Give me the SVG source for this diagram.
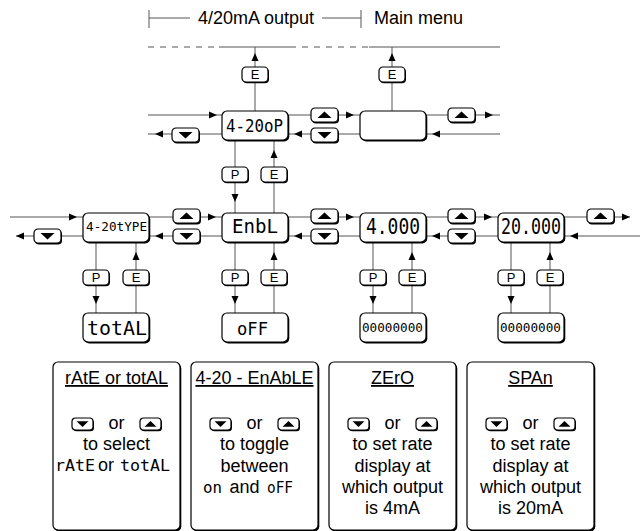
<svg xmlns="http://www.w3.org/2000/svg" xmlns:xlink="http://www.w3.org/1999/xlink" width="640" height="531" viewBox="0 0 640 531">
<style>
.ln{stroke:#555;stroke-width:1;fill:none}
.dash{stroke:#555;stroke-width:1;fill:none;stroke-dasharray:6 6}
.box{fill:#fff;stroke:#000;stroke-width:1.2}
.sh{fill:#000}
.ah{fill:#000}
.t{font-family:"Liberation Sans",Arial,Helvetica,sans-serif;font-size:18px;fill:#000}
.k{font-family:"Liberation Sans",Arial,Helvetica,sans-serif;font-size:13px;fill:#000;text-anchor:middle}
.lcd{font-family:"DejaVu Sans Mono","Liberation Mono",monospace;fill:#000}
.u{text-decoration:underline}
</style>
<defs>
<path id="ar" d="M0,0 L-8,-3.5 L-8,3.5 Z" class="ah"/>
<g id="bu">
<rect x="1" y="1.5" width="27" height="14" rx="4" class="sh"/>
<rect x="0" y="0" width="27" height="14" rx="4" class="box"/>
<polygon points="6.5,10 20.5,10 13.5,3.5" class="ah"/>
</g>
<g id="bd">
<rect x="1" y="1.5" width="27" height="14" rx="4" class="sh"/>
<rect x="0" y="0" width="27" height="14" rx="4" class="box"/>
<polygon points="6.5,4 20.5,4 13.5,10.5" class="ah"/>
</g>
<g id="sbu">
<rect x="1" y="1.3" width="21" height="12" rx="3.5" class="sh"/>
<rect x="0" y="0" width="21" height="12" rx="3.5" class="box"/>
<polygon points="4.5,8.8 16.5,8.8 10.5,3" class="ah"/>
</g>
<g id="sbd">
<rect x="1" y="1.3" width="21" height="12" rx="3.5" class="sh"/>
<rect x="0" y="0" width="21" height="12" rx="3.5" class="box"/>
<polygon points="4.5,3.2 16.5,3.2 10.5,9" class="ah"/>
</g>
<g id="kb">
<rect x="1" y="1.3" width="26" height="15" rx="4" class="sh"/>
<rect x="0" y="0" width="26" height="15" rx="4" class="box"/>
</g>
<g id="disp">
<rect x="1.3" y="1.5" width="66" height="29" rx="5" class="sh"/>
<rect x="0" y="0" width="66" height="29" rx="5" class="box"/>
</g>
<g id="panel">
<rect x="1.3" y="1.5" width="127" height="168" rx="5" class="sh"/>
<rect x="0" y="0" width="127" height="168" rx="5" class="box"/>
</g>
</defs>
<rect width="640" height="531" fill="#fff"/>

<g id="header">
<line x1="149" y1="10" x2="149" y2="28" class="ln"/>
<line x1="149" y1="18" x2="190" y2="18" class="ln"/>
<text x="198" y="24" class="t">4/20mA output</text>
<line x1="322" y1="18" x2="361" y2="18" class="ln"/>
<line x1="361" y1="10" x2="361" y2="28" class="ln"/>
<text x="374" y="24" class="t">Main menu</text>
<line x1="148" y1="47" x2="219" y2="47" class="dash"/>
<line x1="219" y1="47" x2="290" y2="47" class="ln"/>
<line x1="290" y1="47" x2="368" y2="47" class="dash"/>
<line x1="369" y1="47" x2="500" y2="47" class="ln"/>
</g>

<g id="connectors">
<line x1="255" y1="111" x2="255" y2="47" class="ln"/>
<use href="#ar" transform="translate(255,53) rotate(-90)"/>
<line x1="392" y1="111" x2="392" y2="47" class="ln"/>
<use href="#ar" transform="translate(392,53) rotate(-90)"/>
<line x1="148" y1="115" x2="222" y2="115" class="ln"/>
<use href="#ar" transform="translate(217,115)"/>
<line x1="148" y1="134" x2="222" y2="134" class="ln"/>
<use href="#ar" transform="translate(155,134) rotate(180)"/>
<line x1="288" y1="115" x2="360" y2="115" class="ln"/>
<use href="#ar" transform="translate(354,115)"/>
<line x1="288" y1="134" x2="360" y2="134" class="ln"/>
<use href="#ar" transform="translate(294,134) rotate(180)"/>
<line x1="426" y1="115" x2="500" y2="115" class="ln"/>
<use href="#ar" transform="translate(493,115)"/>
<line x1="426" y1="134" x2="500" y2="134" class="ln"/>
<use href="#ar" transform="translate(432,134) rotate(180)"/>
<line x1="235" y1="140" x2="235" y2="213" class="ln"/>
<use href="#ar" transform="translate(235,202) rotate(90)"/>
<line x1="274" y1="213" x2="274" y2="140" class="ln"/>
<use href="#ar" transform="translate(274,150) rotate(-90)"/>
<line x1="10" y1="217" x2="83" y2="217" class="ln"/>
<use href="#ar" transform="translate(77,217)"/>
<line x1="16" y1="236" x2="83" y2="236" class="ln"/>
<use href="#ar" transform="translate(16,236) rotate(180)"/>
<line x1="149" y1="217" x2="222" y2="217" class="ln"/>
<use href="#ar" transform="translate(216,217)"/>
<line x1="149" y1="236" x2="222" y2="236" class="ln"/>
<use href="#ar" transform="translate(155,236) rotate(180)"/>
<line x1="287" y1="217" x2="360" y2="217" class="ln"/>
<use href="#ar" transform="translate(354,217)"/>
<line x1="287" y1="236" x2="360" y2="236" class="ln"/>
<use href="#ar" transform="translate(294,236) rotate(180)"/>
<line x1="426" y1="217" x2="498" y2="217" class="ln"/>
<use href="#ar" transform="translate(492,217)"/>
<line x1="426" y1="236" x2="498" y2="236" class="ln"/>
<use href="#ar" transform="translate(432,236) rotate(180)"/>
<line x1="564" y1="217" x2="630" y2="217" class="ln"/>
<use href="#ar" transform="translate(630,217)"/>
<line x1="564" y1="236" x2="640" y2="236" class="ln"/>
<use href="#ar" transform="translate(570,236) rotate(180)"/>
<line x1="96" y1="242" x2="96" y2="313" class="ln"/>
<use href="#ar" transform="translate(96,304) rotate(90)"/>
<line x1="136" y1="313" x2="136" y2="242" class="ln"/>
<use href="#ar" transform="translate(136,252) rotate(-90)"/>
<line x1="235" y1="242" x2="235" y2="313" class="ln"/>
<use href="#ar" transform="translate(235,304) rotate(90)"/>
<line x1="274" y1="313" x2="274" y2="242" class="ln"/>
<use href="#ar" transform="translate(274,252) rotate(-90)"/>
<line x1="373" y1="242" x2="373" y2="313" class="ln"/>
<use href="#ar" transform="translate(373,304) rotate(90)"/>
<line x1="412" y1="313" x2="412" y2="242" class="ln"/>
<use href="#ar" transform="translate(412,252) rotate(-90)"/>
<line x1="511" y1="242" x2="511" y2="313" class="ln"/>
<use href="#ar" transform="translate(511,304) rotate(90)"/>
<line x1="550" y1="313" x2="550" y2="242" class="ln"/>
<use href="#ar" transform="translate(550,252) rotate(-90)"/>
</g>

<g id="buttons">
<use href="#kb" x="242" y="67"/><text x="255" y="79" class="k">E</text>
<use href="#kb" x="379" y="67"/><text x="392" y="79" class="k">E</text>
<use href="#bd" x="172" y="128"/>
<use href="#bu" x="311" y="108"/>
<use href="#bd" x="311" y="128"/>
<use href="#bu" x="448" y="108"/>
<use href="#kb" x="222" y="167"/><text x="235" y="179" class="k">P</text>
<use href="#kb" x="261" y="167"/><text x="274" y="179" class="k">E</text>
<use href="#bd" x="34" y="229"/>
<use href="#bu" x="173" y="209"/>
<use href="#bd" x="173" y="229"/>
<use href="#bu" x="311" y="209"/>
<use href="#bd" x="311" y="229"/>
<use href="#bu" x="448" y="209"/>
<use href="#bd" x="448" y="229"/>
<use href="#bu" x="587" y="209"/>
<use href="#kb" x="83" y="270"/><text x="96" y="282" class="k">P</text>
<use href="#kb" x="123" y="270"/><text x="136" y="282" class="k">E</text>
<use href="#kb" x="222" y="270"/><text x="235" y="282" class="k">P</text>
<use href="#kb" x="261" y="270"/><text x="274" y="282" class="k">E</text>
<use href="#kb" x="360" y="270"/><text x="373" y="282" class="k">P</text>
<use href="#kb" x="399" y="270"/><text x="412" y="282" class="k">E</text>
<use href="#kb" x="498" y="270"/><text x="511" y="282" class="k">P</text>
<use href="#kb" x="537" y="270"/><text x="550" y="282" class="k">E</text>
</g>

<g id="n-4-20oP">
<use href="#disp" x="222" y="111"/>
<text x="226" y="132" class="lcd" font-size="17" textLength="57" lengthAdjust="spacingAndGlyphs">4-20oP</text>
</g>
<g id="n-mainmenu">
<use href="#disp" x="360" y="111"/>
</g>
<g id="n-4-20tYPE">
<use href="#disp" x="83" y="213"/>
<text x="86" y="231" class="lcd" font-size="12" textLength="61" lengthAdjust="spacingAndGlyphs">4-20tYPE</text>
</g>
<g id="n-EnbL">
<use href="#disp" x="222" y="213"/>
<text x="232" y="233" class="lcd" font-size="19" textLength="46" lengthAdjust="spacingAndGlyphs">EnbL</text>
</g>
<g id="n-4.000">
<use href="#disp" x="360" y="213"/>
<text x="366" y="234" class="lcd" font-size="21" textLength="54" lengthAdjust="spacingAndGlyphs">4.000</text>
</g>
<g id="n-20.000">
<use href="#disp" x="498" y="213"/>
<text x="501" y="234" class="lcd" font-size="21" textLength="60" lengthAdjust="spacingAndGlyphs">20.000</text>
</g>
<g id="n-totAL">
<use href="#disp" x="83" y="313"/>
<text x="87" y="335" class="lcd" font-size="20" textLength="60" lengthAdjust="spacingAndGlyphs">totAL</text>
</g>
<g id="n-oFF">
<use href="#disp" x="222" y="313"/>
<text x="237" y="335" class="lcd" font-size="18" textLength="31" lengthAdjust="spacingAndGlyphs">oFF</text>
</g>
<g id="n-zero-digits">
<use href="#disp" x="360" y="313"/>
<text x="362" y="332" class="lcd" font-size="13" textLength="61" lengthAdjust="spacingAndGlyphs">00000000</text>
</g>
<g id="n-span-digits">
<use href="#disp" x="498" y="313"/>
<text x="500" y="332" class="lcd" font-size="13" textLength="61" lengthAdjust="spacingAndGlyphs">00000000</text>
</g>

<g id="p-rate">
<use href="#panel" x="53" y="362"/>
<text x="116.5" y="384" class="t u" text-anchor="middle">rAtE or totAL</text>
<use href="#sbd" x="72" y="418"/>
<text x="116.5" y="429" class="t" text-anchor="middle">or</text>
<use href="#sbu" x="140" y="418"/>
<text x="116.5" y="450" class="t" text-anchor="middle">to select</text>
<text x="55" y="471" class="lcd" font-size="15" textLength="40" lengthAdjust="spacingAndGlyphs">rAtE</text>
<text x="106" y="471" class="t" text-anchor="middle">or</text>
<text x="120" y="471" class="lcd" font-size="15" textLength="50" lengthAdjust="spacingAndGlyphs">totAL</text>
</g>
<g id="p-enable">
<use href="#panel" x="191" y="362"/>
<text x="254.5" y="384" class="t u" text-anchor="middle">4-20 - EnAbLE</text>
<use href="#sbd" x="210" y="418"/>
<text x="254.5" y="429" class="t" text-anchor="middle">or</text>
<use href="#sbu" x="278" y="418"/>
<text x="254.5" y="450" class="t" text-anchor="middle">to toggle</text>
<text x="254.5" y="472" class="t" text-anchor="middle">between</text>
<text x="203" y="493" class="lcd" font-size="15" textLength="19" lengthAdjust="spacingAndGlyphs">on</text>
<text x="244.5" y="493" class="t" text-anchor="middle">and</text>
<text x="267" y="493" class="lcd" font-size="15" textLength="26" lengthAdjust="spacingAndGlyphs">oFF</text>
</g>
<g id="p-zero">
<use href="#panel" x="329" y="362"/>
<text x="392.5" y="384" class="t u" text-anchor="middle">ZErO</text>
<use href="#sbd" x="348" y="418"/>
<text x="392.5" y="429" class="t" text-anchor="middle">or</text>
<use href="#sbu" x="416" y="418"/>
<text x="392.5" y="450" class="t" text-anchor="middle">to set rate</text>
<text x="392.5" y="472" class="t" text-anchor="middle">display at</text>
<text x="392.5" y="493" class="t" text-anchor="middle">which output</text>
<text x="392.5" y="514" class="t" text-anchor="middle">is 4mA</text>
</g>
<g id="p-span">
<use href="#panel" x="467" y="362"/>
<text x="530.5" y="384" class="t u" text-anchor="middle">SPAn</text>
<use href="#sbd" x="486" y="418"/>
<text x="530.5" y="429" class="t" text-anchor="middle">or</text>
<use href="#sbu" x="554" y="418"/>
<text x="530.5" y="450" class="t" text-anchor="middle">to set rate</text>
<text x="530.5" y="472" class="t" text-anchor="middle">display at</text>
<text x="530.5" y="493" class="t" text-anchor="middle">which output</text>
<text x="530.5" y="514" class="t" text-anchor="middle">is 20mA</text>
</g>
</svg>
